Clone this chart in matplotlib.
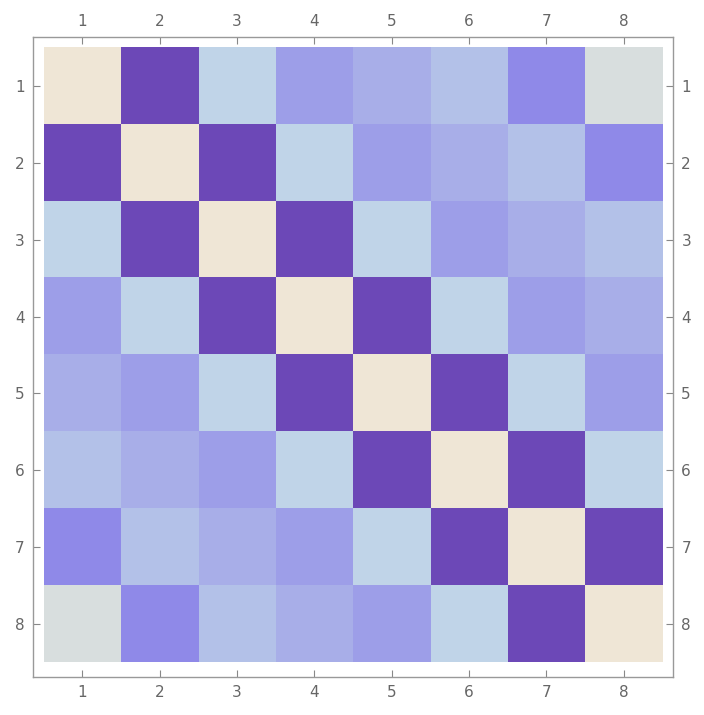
import numpy as np
import matplotlib.pyplot as plt
from matplotlib.colors import LinearSegmentedColormap

# hodnoty podle vzdálenosti od diagonály |i - j| (Toeplitzova matice 8x8)
lag_values = [1.0, -1.0, 0.2, -0.4, -0.25, -0.1, -0.6, 0.5]
labels = ["1", "2", "3", "4", "5", "6", "7", "8"]

n = len(labels)
matrix = np.array([[lag_values[abs(i - j)] for j in range(n)] for i in range(n)])

# barevná škála
cmap = LinearSegmentedColormap.from_list("mma", [
    (0.0, "#6C48B7"),
    (0.2, "#8F89E8"),
    (0.3, "#9E9FE8"),
    (0.375, "#A8AEE8"),
    (0.45, "#B3C1E9"),
    (0.6, "#C0D4E8"),
    (0.75, "#D8DEDF"),
    (1.0, "#EFE6D6"),
])

fig = plt.figure(figsize=(7.04, 7.15), dpi=100)
ax = fig.add_axes([33 / 704, 1 - 677 / 715, 640 / 704, 640 / 715])

ax.imshow(matrix, cmap=cmap, vmin=-1, vmax=1, aspect="auto",
          extent=(0.5, n + 0.5, n + 0.5, 0.5))

ax.set_xlim(0.36, n + 0.64)
ax.set_ylim(n + 0.69, 0.36)

ticks = np.arange(1, n + 1)
ax.set_xticks(ticks, labels)
ax.set_yticks(ticks, labels)
ax.tick_params(direction="in", length=5, width=0.8, color="#888888",
               labelcolor="#666666", labelsize=11,
               top=True, bottom=True, left=True, right=True,
               labeltop=True, labelbottom=True, labelleft=True, labelright=True,
               pad=6)
for s in ax.spines.values():
    s.set_color("#999999")
    s.set_linewidth(1.0)

plt.savefig("out.png", dpi=100)
